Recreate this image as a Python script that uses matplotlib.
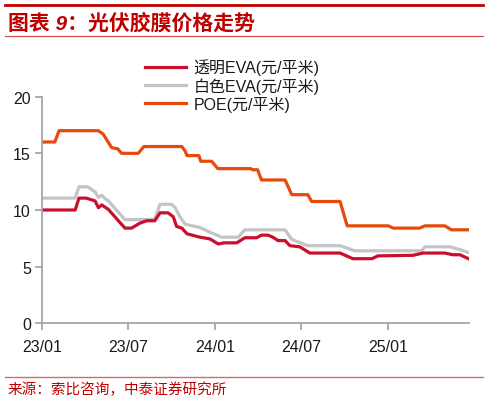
import matplotlib
matplotlib.use("Agg")
import matplotlib.pyplot as plt
import pandas as pd

plt.rcParams['font.family'] = ['Liberation Sans', 'Noto Sans CJK SC', 'DejaVu Sans']

BASE = pd.Timestamp('2023-01-01')

# Days since 2023-01-01 and prices (元/平米)
poe_days = [0, 27, 36, 119, 129, 147, 160, 168, 203, 215, 295, 302, 306, 331, 335, 358, 371,
            440, 445, 455, 463, 513, 527, 561, 569, 629, 644, 731, 741, 797, 808, 850, 864, 900]
poe_vals = [16.0, 16.0, 17.0, 17.0, 16.7, 15.5, 15.4, 15.0, 15.0, 15.6, 15.6, 15.2, 14.8, 14.8, 14.3, 14.3, 13.65,
            13.65, 13.55, 13.55, 12.65, 12.65, 11.35, 11.35, 10.75, 10.75, 8.6, 8.6, 8.4, 8.4, 8.6, 8.6, 8.25, 8.25]

tevA_days = [0, 70, 78, 93, 112, 119, 126, 140, 158, 175, 189, 207, 221, 238, 249, 266, 277, 284, 295,
             306, 333, 354, 372, 384, 411, 428, 453, 463, 477, 487, 498, 513, 523, 544, 565, 629, 656,
             696, 709, 783, 804, 850, 867, 882, 900]
tevA_vals = [10.0, 10.0, 11.05, 11.05, 10.8, 10.2, 10.45, 10.05, 9.2, 8.4, 8.4, 8.85, 9.05, 9.05, 9.75, 9.75, 9.4, 8.55, 8.4,
             7.9, 7.6, 7.45, 7.0, 7.1, 7.1, 7.55, 7.55, 7.78, 7.78, 7.6, 7.3, 7.3, 6.85, 6.75, 6.2, 6.2, 5.7,
             5.7, 5.95, 6.0, 6.2, 6.2, 6.05, 6.05, 5.7]

wevA_days = [0, 70, 78, 96, 112, 119, 126, 133, 140, 175, 221, 238, 249, 274, 281, 291, 302, 333, 354,
             379, 414, 428, 513, 527, 561, 629, 660, 801, 808, 861, 882, 900]
wevA_vals = [11.05, 11.05, 12.05, 12.05, 11.6, 11.1, 11.3, 11.0, 10.8, 9.15, 9.15, 9.2, 10.5, 10.5, 10.2, 9.4, 8.75, 8.45, 8.05,
             7.6, 7.6, 8.25, 8.25, 7.4, 6.85, 6.85, 6.4, 6.4, 6.75, 6.75, 6.5, 6.25]

labels = ['透明EVA(元/平米)', '白色EVA(元/平米)', 'POE(元/平米)']
colors = ['#c8102e', '#c4c4c4', '#e84a0c']
xtick_labels = ['23/01', '23/07', '24/01', '24/07', '25/01']
xtick_dates = ['2023-01-01', '2023-07-01', '2024-01-01', '2024-07-01', '2025-01-01']
yticks = [0, 5, 10, 15, 20]


def to_dates(days):
    return BASE + pd.to_timedelta(days, unit='D')


fig = plt.figure(figsize=(4.88, 4.02), dpi=100)
ax = fig.add_axes([0.0861, 0.1933, 0.8749, 0.5637])

series = [(wevA_days, wevA_vals, 1), (tevA_days, tevA_vals, 0), (poe_days, poe_vals, 2)]
handles = [None] * 3
for d, v, i in series:
    ln, = ax.plot(to_dates(d), v, color=colors[i], lw=2.3, solid_joinstyle='round', label=labels[i])
    handles[i] = ln

ax.set_ylim(0, 20)
ax.set_xlim(BASE, BASE + pd.Timedelta(days=901))
ax.set_yticks(yticks)
ax.set_xticks(pd.to_datetime(xtick_dates))
ax.set_xticklabels(xtick_labels)

for s in ['top', 'right']:
    ax.spines[s].set_visible(False)
for s in ['left', 'bottom']:
    ax.spines[s].set_color('#a6a6a6')
    ax.spines[s].set_linewidth(1.3)
ax.tick_params(axis='both', colors='#a6a6a6', labelcolor='#1a1a1a', labelsize=11.5, length=5, width=1.3)
ax.tick_params(axis='x', pad=6)
ax.tick_params(axis='y', pad=3)

leg = fig.legend(handles=handles, labels=labels, loc='upper left', bbox_to_anchor=(0.297, 0.852),
                 frameon=False, fontsize=11.5, handlelength=2.6, handletextpad=0.45, labelspacing=0.12,
                 borderpad=0, borderaxespad=0)
for t in leg.get_texts():
    t.set_color('#1a1a1a')

# Header and footer
fig.add_artist(plt.Line2D([0.01, 0.99], [0.985, 0.985], color='#c00000', lw=2.0))
fig.add_artist(plt.Line2D([0.01, 0.99], [0.907, 0.907], color='#d9534f', lw=0.9))
fig.add_artist(plt.Line2D([0.01, 0.99], [0.059, 0.059], color='#e06666', lw=1.0))
fig.text(0.016, 0.942, '图表 9：光伏胶膜价格走势', color='#c00000', fontsize=15,
         fontweight='bold', style='italic', va='center', ha='left')
fig.text(0.016, 0.030, '来源：索比咨询，中泰证券研究所', color='#c00000', fontsize=10.5,
         va='center', ha='left')

fig.savefig('out.png', dpi=100)
